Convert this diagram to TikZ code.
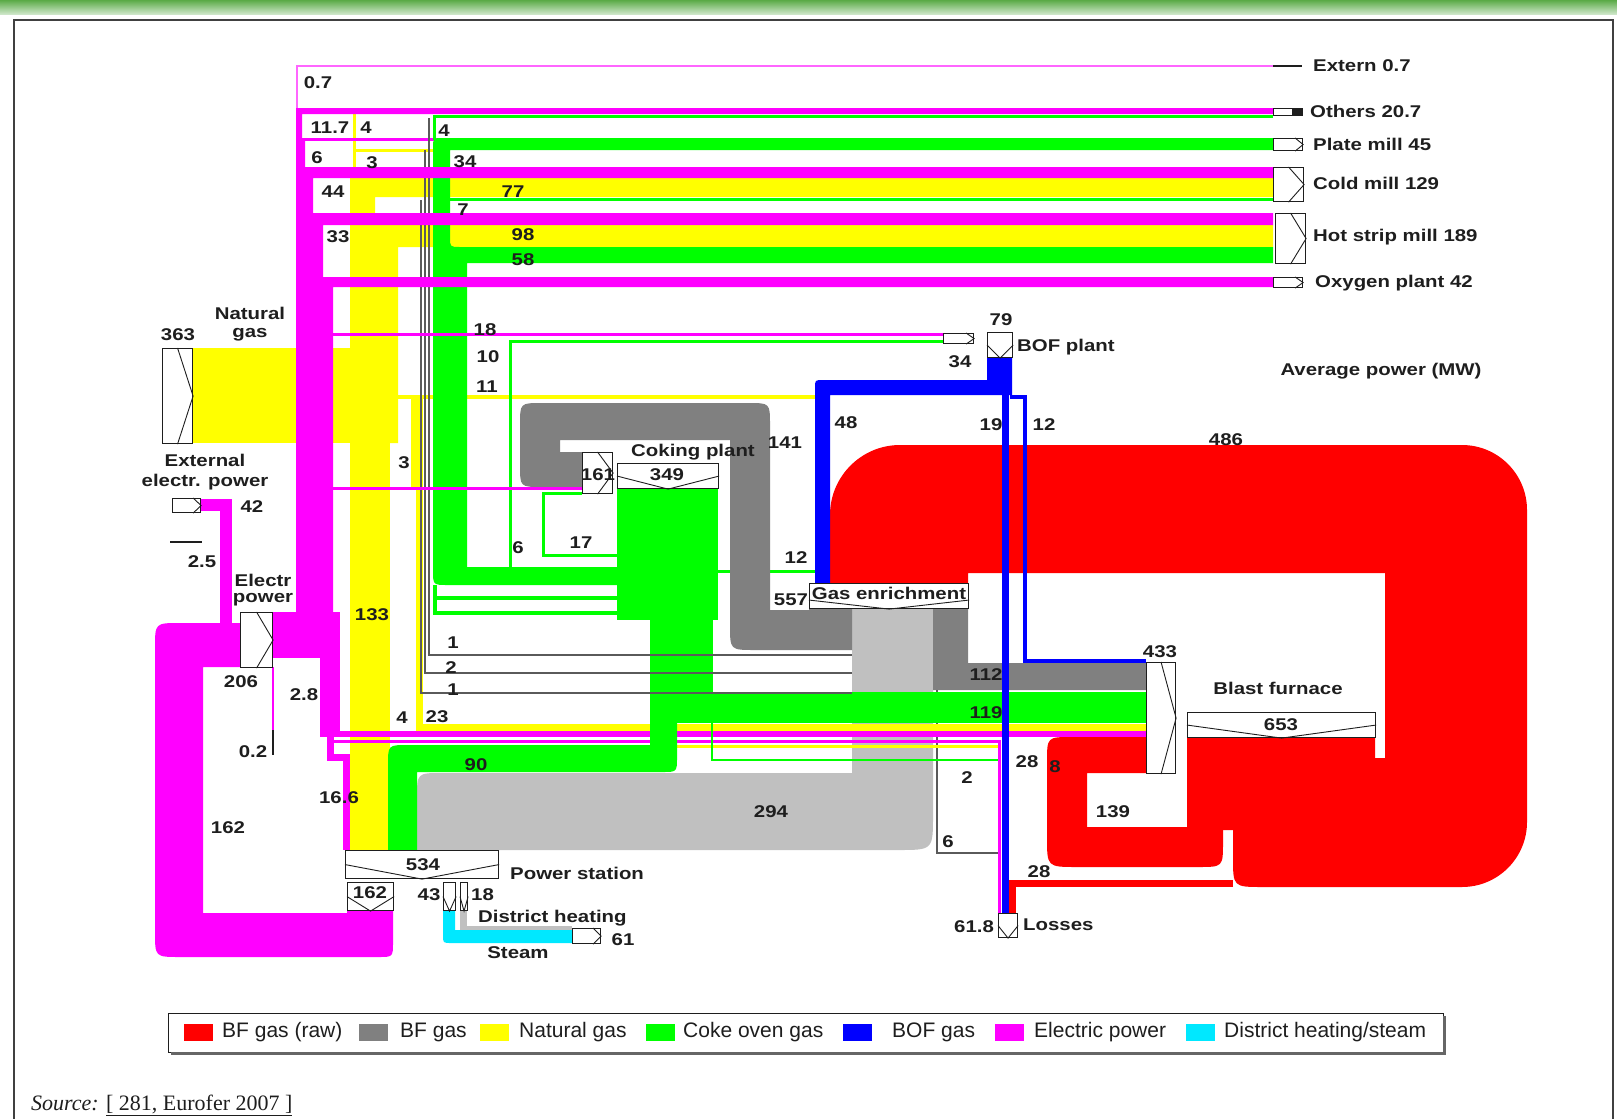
\documentclass[tikz,border=0pt]{standalone}
\usepackage{fontspec}
\setmainfont{Liberation Sans}
\newfontfamily\labfont{Liberation Sans}[FakeStretch=1.2]
\newfontfamily\serfont{Liberation Serif}
\usetikzlibrary{calc}
\definecolor{cRed}{RGB}{255,0,0}
\definecolor{cBF}{RGB}{128,128,128}
\definecolor{cLG}{RGB}{192,192,192}
\definecolor{cYel}{RGB}{255,255,0}
\definecolor{cGrn}{RGB}{0,255,0}
\definecolor{cBlu}{RGB}{0,0,255}
\definecolor{cMag}{RGB}{255,0,255}
\definecolor{cCya}{RGB}{0,232,255}
\definecolor{cInk}{RGB}{30,30,30}
\definecolor{cBan1}{RGB}{90,170,70}
\definecolor{cBan2}{RGB}{205,230,200}
\newcounter{lbc}
\tikzset{
  lab/.style={font=\labfont\bfseries\fontsize{17}{19}\selectfont, inner sep=0pt, text=cInk},
  unit/.style={draw=cInk, fill=white, line width=1.1pt, inner sep=0pt, rectangle},
  chev/.style={draw=cInk, line width=0.9pt},
  leg/.style={font=\fontsize{21}{24}\selectfont, inner sep=0pt, text=cInk, anchor=west},
  thin grey/.style={draw=cBF!70!black, line width=1.5pt},
}
\newcommand\ubox[5]{\node[unit, anchor=north west, minimum width={#4pt-#2pt}, minimum height={#5pt-#3pt}] (#1) at (#2,#3) {};}
\newcommand\chR[1]{\draw[chev] (#1.north) -- (#1.east) -- (#1.south);}
\newcommand\chRs[1]{\draw[chev] ($(#1.north east)+(-8,0)$) -- (#1.east) -- ($(#1.south east)+(-8,0)$);}
\newcommand\chV[1]{\draw[chev] (#1.west) -- (#1.south) -- (#1.east);}
\newcommand\plab[3]{\stepcounter{lbc}\node[lab] (lab\arabic{lbc}) at (#1,#2) {#3};}
\newcommand\plabw[3]{\stepcounter{lbc}\node[lab, anchor=west] (lab\arabic{lbc}) at (#1,#2) {#3};}
\begin{document}
\begin{tikzpicture}[x=1pt,y=-1pt, line join=miter]
\useasboundingbox (0,0) rectangle (1617,1119);
\fill[white] (0,0) rectangle (1617,1119);
% banner and frame
\shade[top color=cBan1, bottom color=cBan2] (0,0) rectangle (1617,14);
\draw[black!75, line width=2pt] (14,1119) -- (14,20) -- (1613,20) -- (1613,1119);

% ---------- RED (BF gas raw)
\fill[cRed] (830,583) -- (830,515) .. controls (830,476.4) and (861.4,445) .. (900,445) -- (1462,445) .. controls (1497.9,445) and (1527,474.1) .. (1527,510) -- (1527,822) .. controls (1527,857.9) and (1497.9,887) .. (1462,887) -- (1263,887) .. controls (1233,887) .. (1233,857) -- (1233,830) -- (1187,830) -- (1187,737) -- (1375,737) -- (1375,758) -- (1385,758) -- (1385,573) -- (968,573) -- (968,583) -- cycle;
\fill[cRed] (1146,737) -- (1072,737) .. controls (1047,737) .. (1047,762) -- (1047,837) .. controls (1047,867) .. (1077,867) -- (1198,867) .. controls (1223,867) .. (1223,842) -- (1223,827) -- (1087,827) -- (1087,773) -- (1146,773) -- cycle;
\draw[cRed, line width=7pt] (1233,883.5) -- (1012.5,883.5) -- (1012.5,913);

% green 12 line (below grey loop)
\draw[cGrn, line width=3pt] (713,571) -- (816.5,571) -- (816.5,583);

% ---------- GREYS
\fill[cLG] (852,608) -- (933,608) -- (933,815) .. controls (933,850) .. (898,850) -- (417,850) -- (417,798) .. controls (417,773) .. (442,773) -- (852,773) -- cycle;
\fill[cBF] (852,608) -- (852,650) -- (755,650) .. controls (730,650) .. (730,625) -- (730,440) -- (560,440) -- (560,452) -- (582,452) -- (582,487) -- (542,487) .. controls (520,487) .. (520,465) -- (520,425) .. controls (520,403) .. (542,403) -- (748,403) .. controls (770,403) .. (770,425) -- (770,610) -- (809,610) -- (809,608) -- cycle;
\fill[cBF] (933,608) -- (968,608) -- (968,663) -- (1146,663) -- (1146,690) -- (933,690) -- cycle;
\draw[thin grey] (937,690) -- (937,853) -- (998,853);

% ---------- YELLOW (natural gas)
\fill[cYel] (192,348) rectangle (398,443);
\fill[cYel] (350,443) -- (350,178) -- (1273,178) -- (1273,197) -- (375,197) -- (375,225) -- (1273,225) -- (1273,247) -- (398,247) -- (398,443) -- cycle;
\fill[cYel] (350,443) rectangle (390,850);
\draw[cYel, line width=4pt] (398,397) -- (815,397);
\draw[cYel, line width=5pt] (413.5,397) -- (413.5,489);
\draw[cYel, line width=7pt] (419.5,397) -- (419.5,727.5) -- (1146,727.5);
\draw[cYel, line width=3pt] (419.5,746) -- (998,746);
\draw[cYel, line width=3pt] (354.5,178) -- (354.5,114);
\draw[cYel, line width=3pt] (354.5,150) -- (433,150);

% ---------- MAGENTA (lower lines)
\draw[cMag, line width=6pt] (320,734) -- (1146,734);
\draw[cMag, line width=3pt] (330,741) -- (999,741) -- (999,913);
\draw[cMag, line width=3pt] (302,139.5) -- (1273,139.5);

% ---------- GREEN (coke oven gas)
\fill[cGrn] (433,148) .. controls (433,138) .. (443,138) -- (1273,138) -- (1273,150) -- (450,150) -- (450,237) .. controls (450,247) .. (460,247) -- (1273,247) -- (1273,263) -- (467,263) -- (467,567) -- (650,567) -- (650,585) -- (448,585) .. controls (433,585) .. (433,570) -- cycle;
\fill[cGrn] (617,488) rectangle (718,620);
\fill[cGrn] (650,620) rectangle (713,723);
\fill[cGrn] (650,692) rectangle (1146,723);
\fill[cGrn] (650,723) -- (677,723) -- (677,757) .. controls (677,772) .. (662,772) -- (417,772) -- (417,850) -- (388,850) -- (388,765) .. controls (388,745) .. (408,745) -- (650,745) -- cycle;
\draw[cGrn, line width=4pt] (435,585) -- (435,613) -- (650,613);
\draw[cGrn, line width=4pt] (435,598) -- (650,598);
\draw[cGrn, line width=2.5pt] (434.5,140) -- (434.5,116.5) -- (1273,116.5);
\draw[cGrn, line width=3pt] (450,199) -- (1273,199);
\draw[cGrn, line width=3pt] (510,567) -- (510,341) -- (943,341);
\draw[cGrn, line width=3pt] (617,555.5) -- (543,555.5) -- (543,493) -- (582,493);
\draw[cGrn, line width=2pt] (712,723) -- (712,760) -- (998,760);

% ---------- thin BF gas lines
\draw[thin grey] (852,655) -- (429,655) -- (429,118);
\draw[thin grey] (852,673) -- (425,673) -- (425,150);
\draw[thin grey] (852,693) -- (421,693) -- (421,200);

% ---------- MAGENTA (electric power)
\fill[cMag] (296,612) -- (296,108) -- (1273,108) -- (1273,114) -- (302,114) -- (302,141) -- (305,141) -- (305,167) -- (1273,167) -- (1273,178) -- (313,178) -- (313,213) -- (1273,213) -- (1273,225) -- (323,225) -- (323,277) -- (1273,277) -- (1273,287) -- (333,287) -- (333,612) -- cycle;
\fill[cMag] (272,612) rectangle (340,658);
\fill[cMag] (320,658) rectangle (340,737);
\draw[cMag, line width=7pt] (330,737) -- (330,757) -- (346.5,757) -- (346.5,850);
\draw[cMag, line width=1.5pt] (273,667) -- (273,730);
\draw[cInk, line width=1.5pt] (273,730) -- (273,755);
\draw[cMag!60, line width=2pt] (297,108) -- (297,66) -- (1273,66);
\draw[cMag, line width=3pt] (333,334.5) -- (943,334.5);
\draw[cMag, line width=3pt] (333,488.5) -- (582,488.5);
\draw[cMag, line width=12pt] (200,505) -- (226,505) -- (226,623);
\fill[cMag] (347,910) -- (393,910) -- (393,942) .. controls (393,957) .. (378,957) -- (180,957) .. controls (155,957) .. (155,932) -- (155,648) .. controls (155,623) .. (180,623) -- (240,623) -- (240,667) -- (203,667) -- (203,913) -- (347,913) -- cycle;
\draw[cInk, line width=1.5pt] (170,542) -- (202,542);

% ---------- BLUE (BOF gas)
\fill[cBlu] (987,357) -- (1012,357) -- (1012,395) -- (830,395) -- (830,583) -- (815,583) -- (815,388) .. controls (815,380) .. (823,380) -- (987,380) -- cycle;
\draw[cBlu, line width=7pt] (1005,395) -- (1005,913);
\draw[cBlu, line width=4pt] (1010,397) -- (1025,397) -- (1025,661) -- (1146,661);

% ---------- district heating / steam
\fill[cCya] (443,910) -- (455,910) -- (455,930) -- (572,930) -- (572,943) -- (451,943) .. controls (443,943) .. (443,935) -- cycle;
\fill[cLG] (460,910) rectangle (467,930);
\draw[cLG, line width=4pt] (460,928) -- (572,928);

% ---------- unit boxes
\ubox{ng}{162}{348}{192}{443} \chR{ng}
\ubox{ext}{172}{498}{200}{512} \chRs{ext}
\ubox{ep}{240}{612}{272}{667} \chR{ep}
\ubox{ps}{345}{850}{498}{878} \chV{ps}
\ubox{pso}{347}{882}{393}{910} \chV{pso}
\ubox{dha}{443}{882}{455}{910} \chV{dha}
\ubox{dhb}{460}{882}{467}{910} \chV{dhb}
\ubox{dhs}{572}{928}{600}{943} \chRs{dhs}
\ubox{cki}{582}{452}{612}{493} \chR{cki}
\ubox{cko}{617}{463}{718}{488} \chV{cko}
\ubox{ge}{809}{583}{968}{608}
\draw[chev] (ge.west) ++(0,4) -- (ge.south) -- ($(ge.east)+(0,4)$);
\ubox{bof}{987}{332}{1012}{357} \chV{bof}
\ubox{bofi}{943}{333}{973}{343} \chRs{bofi}
\ubox{bfi}{1146}{662}{1175}{773} \chR{bfi}
\ubox{bfo}{1187}{712}{1375}{737} \chV{bfo}
\ubox{los}{998}{913}{1017}{937} \chV{los}
\draw[cInk, line width=2pt] (1273,66) -- (1302,66);
\ubox{soth}{1273}{108}{1302}{115}
\fill[cInk] (1292,108) rectangle (1302,115);
\ubox{spm}{1273}{138}{1302}{150} \chRs{spm}
\ubox{scm}{1273}{167}{1303}{201} \chR{scm}
\ubox{shs}{1275}{213}{1305}{263} \chR{shs}
\ubox{sox}{1273}{277}{1302}{287} \chRs{sox}

% ---------- labels
\plab{318}{83}{0.7}
\plab{330}{128}{11.7}
\plab{366}{128}{4}
\plab{444}{131}{4}
\plab{317}{158}{6}
\plab{372}{163}{3}
\plab{465}{162}{34}
\plab{333}{192}{44}
\plab{513}{192}{77}
\plab{463}{210}{7}
\plab{338}{237}{33}
\plab{523}{235}{98}
\plab{523}{260}{58}
\plab{485}{330}{18}
\plab{488}{357}{10}
\plab{487}{387}{11}
\plab{404}{463}{3}
\plab{372}{615}{133}
\plab{453}{643}{1}
\plab{451}{668}{2}
\plab{453}{690}{1}
\plab{402}{718}{4}
\plab{437}{717}{23}
\plab{476}{765}{90}
\plab{339}{798}{16.6}
\plab{228}{828}{162}
\plab{241}{682}{206}
\plab{304}{695}{2.8}
\plab{253}{752}{0.2}
\plab{423}{865}{534}
\plabw{510}{873}{Power station}
\plab{370}{893}{162}
\plab{429}{895}{43}
\plabw{471}{895}{18}
\plabw{478}{918}{District heating}
\plab{623}{940}{61}
\plab{518}{953}{Steam}
\plab{771}{812}{294}
\plab{693}{452}{Coking plant}
\plab{598}{475}{161}
\plab{667}{475}{349}
\plab{785}{443}{141}
\plab{581}{543}{17}
\plab{518}{548}{6}
\plab{796}{558}{12}
\plab{791}{600}{557}
\plab{889}{593}{Gas enrichment}
\plab{846}{423}{48}
\plab{991}{425}{19}
\plab{1044}{425}{12}
\plab{1001}{320}{79}
\plabw{1017}{347}{BOF plant}
\plab{960}{362}{34}
\plab{1226}{440}{486}
\plab{1381}{371}{Average power (MW)}
\plab{1160}{652}{433}
\plab{1278}{688}{Blast furnace}
\plab{1281}{725}{653}
\plab{986}{675}{112}
\plab{986}{713}{119}
\plab{1027}{762}{28}
\plab{1055}{767}{8}
\plab{967}{778}{2}
\plab{948}{842}{6}
\plab{1113}{812}{139}
\plab{1039}{872}{28}
\plab{974}{927}{61.8}
\plabw{1023}{925}{Losses}
\plab{178}{335}{363}
\plab{250}{313}{Natural}
\plab{250}{335}{gas}
\plab{205}{460}{External}
\plab{205}{482}{electr. power}
\plab{252}{507}{42}
\plab{202}{562}{2.5}
\plab{263}{580}{Electr}
\plab{263}{600}{power}
\plabw{1313}{66}{Extern 0.7}
\plabw{1310}{111}{Others 20.7}
\plabw{1313}{144}{Plate mill 45}
\plabw{1313}{183}{Cold mill 129}
\plabw{1313}{237}{Hot strip mill 189}
\plabw{1315}{283}{Oxygen plant 42}

% ---------- legend
\node[draw=cInk, line width=1.2pt, fill=white, anchor=north west, minimum width=1275pt, minimum height=39pt, inner sep=0pt] (legend) at (168,1013) {};
\draw[black!60, line width=2.5pt] (171,1053.5) -- (1444.5,1053.5) -- (1444.5,1016);
\fill[cRed] (184,1024) rectangle (213,1041); \node[leg] (lg1) at (222,1032.5) {BF gas (raw)};
\fill[cBF] (359,1024) rectangle (388,1041); \node[leg] (lg2) at (400,1032.5) {BF gas};
\fill[cYel] (480,1024) rectangle (509,1041); \node[leg] (lg3) at (519,1032.5) {Natural gas};
\fill[cGrn] (646,1024) rectangle (675,1041); \node[leg] (lg4) at (683,1032.5) {Coke oven gas};
\fill[cBlu] (843,1024) rectangle (872,1041); \node[leg] (lg5) at (892,1032.5) {BOF gas};
\fill[cMag] (995,1024) rectangle (1024,1041); \node[leg] (lg6) at (1034,1032.5) {Electric power};
\fill[cCya] (1186,1024) rectangle (1215,1041); \node[leg] (lg7) at (1224,1032.5) {District heating/steam};

% ---------- source
\node[anchor=west, inner sep=0pt, font=\serfont\fontsize{22}{25}\selectfont, text=cInk] (src) at (31,1105) {\textit{Source:} \underline{[ 281, Eurofer 2007 ]}};
\end{tikzpicture}
\end{document}
